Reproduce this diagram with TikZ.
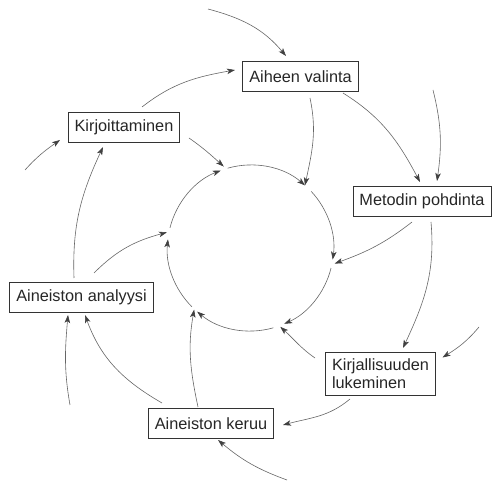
\documentclass[tikz,border=0pt]{standalone}
\usepackage{fontspec}
\setmainfont{Liberation Sans}
\usetikzlibrary{arrows.meta,calc}
\begin{document}
\begin{tikzpicture}[x=1pt,y=1pt,
  stage/.style={draw=black!80, line width=0.8pt, inner xsep=6.5pt, inner ysep=0pt,
    minimum height=30pt, font=\fontsize{16.3}{17.5}\selectfont, text=black!85},
  flow/.style={draw=black!60, line width=0.6pt,
    -{Stealth[length=8pt,width=5.5pt,inset=2pt,color=black!75]}}
]
\useasboundingbox (0,0) rectangle (493,482);

% the research stages
\node[stage] (aih) at (300.5,405.5) {Aiheen valinta};
\node[stage] (met) at (422,280.5) {Metodin pohdinta};
\node[stage, align=left, minimum height=43pt] (kir) at (380.5,108.5) {Kirjallisuuden\\lukeminen};
\node[stage] (ker) at (211,58.5) {Aineiston keruu};
\node[stage] (ana) at (81.5,185) {Aineiston analyysi};
\node[stage] (kjt) at (124,355) {Kirjoittaminen};

% inner cycle: six arcs of one circle
\coordinate (ctr) at (250.5,234);
\coordinate (sA) at ($(ctr)+(106:83)$);  \coordinate (tA) at ($(ctr)+(49:83)$);
\coordinate (sB) at ($(ctr)+(43:83)$);   \coordinate (tB) at ($(ctr)+(-8:83)$);
\coordinate (sC) at ($(ctr)+(-14:83)$);  \coordinate (tC) at ($(ctr)+(-66:83)$);
\coordinate (sD) at ($(ctr)+(-74:83)$);  \coordinate (tD) at ($(ctr)+(-130:83)$);
\coordinate (sE) at ($(ctr)+(-135:83)$); \coordinate (tE) at ($(ctr)+(-186:83)$);
\coordinate (sF) at ($(ctr)+(-194:83)$); \coordinate (tF) at ($(ctr)+(-249:83)$);
\draw[flow] (sA) arc[start angle=106, end angle=49, radius=83];
\draw[flow] (sB) arc[start angle=43, end angle=-8, radius=83];
\draw[flow] (sC) arc[start angle=-14, end angle=-66, radius=83];
\draw[flow] (sD) arc[start angle=-74, end angle=-130, radius=83];
\draw[flow] (sE) arc[start angle=-135, end angle=-186, radius=83];
\draw[flow] (sF) arc[start angle=-194, end angle=-249, radius=83];

% free ends of the outer spiral
\coordinate (f1) at (208,473);
\coordinate (f5) at (433,392);
\coordinate (f8) at (479,155);
\coordinate (f11) at (287,2);
\coordinate (f14) at (70,77);
\coordinate (f17) at (25,312);

% Aiheen valinta
\draw[flow] (f1) to[out=-15,in=130] ([shift={(-14.5,20.5)}]aih.center);
\draw[flow] ([shift={(18,20)}]kjt.center) to[out=38,in=190] ([shift={(-65.5,6.5)}]aih.center);
\draw[flow] ([shift={(9.5,-21.5)}]aih.center) to[out=-78,in=78] (tA);
\draw[flow] ([shift={(42.5,-16.5)}]aih.center) to[out=-32,in=118] ([shift={(-2,19.5)}]met.center);

% Metodin pohdinta
\draw[flow] (f5) to[out=-76,in=82] ([shift={(15,20.5)}]met.center);
\draw[flow] ([shift={(-10,-20.5)}]met.center) to[out=-142,in=20] ([shift={(2,-4)}]tB);
\draw[flow] ([shift={(9,-20.5)}]met.center) to[out=-85,in=65] ([shift={(22.5,25.5)}]kir.center);

% Kirjallisuuden lukeminen
\draw[flow] (f8) to[out=-130,in=32] ([shift={(62,16)}]kir.center);
\draw[flow] ([shift={(-30.5,-25.5)}]kir.center) to[out=-140,in=15] ([shift={(72,-1.5)}]ker.center);
\draw[flow] ([shift={(-65.5,15.5)}]kir.center) to[out=145,in=-42] ([shift={(-4,-3)}]tC);

% Aineiston keruu
\draw[flow] (f11) to[out=160,in=-40] ([shift={(7,-16.5)}]ker.center);
\draw[flow] ([shift={(-49,20.5)}]ker.center) to[out=150,in=-70] ([shift={(3.5,-18)}]ana.center);
\draw[flow] ([shift={(-13,16.5)}]ker.center) to[out=102,in=-100] ([shift={(-3,2)}]tD);

% Aineiston analyysi
\draw[flow] (f14) to[out=100,in=-95] ([shift={(-13.5,-18)}]ana.center);
\draw[flow] ([shift={(12.5,24)}]ana.center) to[out=45,in=195] ([shift={(-1,7)}]tE);
\draw[flow] ([shift={(-7.5,19)}]ana.center) to[out=92,in=-115] ([shift={(-21,-20)}]kjt.center);

% Kirjoittaminen
\draw[flow] (f17) to[out=48,in=-145] ([shift={(-64,-13)}]kjt.center);
\draw[flow] ([shift={(65,-11)}]kjt.center) to[out=-35,in=138] ([shift={(3,4)}]tF);
\end{tikzpicture}
\end{document}
